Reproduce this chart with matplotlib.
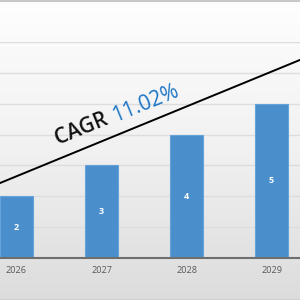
import numpy as np
import matplotlib.pyplot as plt
import matplotlib.transforms as mtransforms
from matplotlib.colors import LinearSegmentedColormap

years = ["2026", "2027", "2028", "2029"]
values = [2, 3, 4, 5]
grid_levels = [1, 2, 3, 4, 5, 6, 7]
cagr_label = "CAGR "
cagr_value = "11.02%"

plt.rcParams['font.family'] = ['Open Sans', 'DejaVu Sans']

fig = plt.figure(figsize=(3, 3), dpi=100)

# background gradient over the whole picture
bg = fig.add_axes([0, 0, 1, 1])
grad = np.linspace(0, 1, 256).reshape(-1, 1)
cmap = LinearSegmentedColormap.from_list('bg', ['#fefefe', '#f1f1f1', '#dcdcdc'])
bg.imshow(grad, aspect='auto', cmap=cmap, extent=[0, 1, 0, 1], origin='upper')
bg.axhline(0.998, color='#c8c8c8', lw=1.5)
bg.axhline(0.004, color='#d0d0d0', lw=1)
bg.set_xlim(0, 1)
bg.set_ylim(0, 1)
bg.axis('off')

# plot area
ax = fig.add_axes([0, 0.14, 1, 0.72])
ax.patch.set_alpha(0)
x = np.arange(len(years))
for g in grid_levels:
    ax.axhline(g, color='#dddddd', lw=1, zorder=0)
ax.bar(x, values, width=0.39, color='#4a8fcc', edgecolor='#66a3da', lw=0.8, zorder=2)
for xi, v in zip(x, values):
    ax.text(xi, v / 2, str(v), color='white', ha='center', va='center',
            fontsize=6.5, fontweight='bold', zorder=3)

ax.set_xlim(-0.194, 3.335)
ax.set_ylim(0, 7)
ax.set_xticks(x)
ax.set_xticklabels(years, fontsize=6.6, color='#595959')
ax.tick_params(axis='x', length=0, pad=6)
ax.set_yticks([])
for s in ['top', 'left', 'right']:
    ax.spines[s].set_visible(False)
ax.spines['bottom'].set_color('#6e6e6e')
ax.spines['bottom'].set_linewidth(1.5)
ax.spines['bottom'].set_zorder(4)

# CAGR trend line
ax.plot([0, 1], [0.347, 0.917], transform=ax.transAxes, color='black', lw=1.4,
        clip_on=False, zorder=5)

fs = 15
angle = np.degrees(np.arctan2(123, 300))
ax.text(0.195, 0.525, cagr_label, transform=ax.transAxes, rotation=angle,
        rotation_mode='anchor', ha='left', va='baseline', fontsize=fs,
        fontweight='semibold', color='#111111', zorder=6)
# measure unrotated width of first part
fig.canvas.draw()
tmp = ax.text(0, 0, cagr_label, fontsize=fs, fontweight='semibold')
w = tmp.get_window_extent(renderer=fig.canvas.get_renderer()).width
tmp.remove()
dx = w * np.cos(np.radians(angle)) * 72 / fig.dpi
dy = w * np.sin(np.radians(angle)) * 72 / fig.dpi
off = mtransforms.offset_copy(ax.transAxes, fig=fig, x=dx, y=dy, units='points')
ax.text(0.195, 0.525, cagr_value, transform=off, rotation=angle,
        rotation_mode='anchor', ha='left', va='baseline', fontsize=fs,
        color='#1a75c5', zorder=6)

fig.savefig('out.png', dpi=100)
